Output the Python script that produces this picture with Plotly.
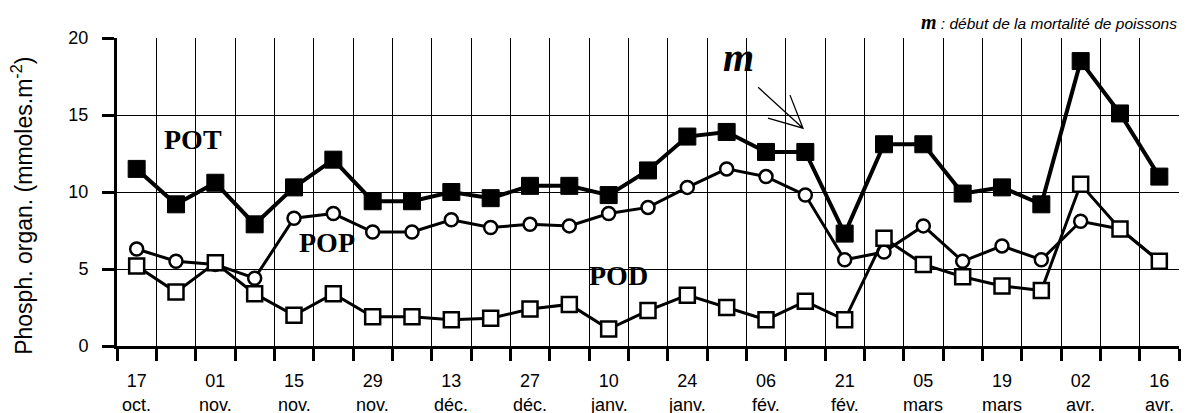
import plotly.graph_objects as go

# ---- data ----
sample_index = list(range(27))
label_days = ["17", "01", "15", "29", "13", "27", "10", "24", "06", "21", "05", "19", "02", "16"]
label_months = ["oct.", "nov.", "nov.", "nov.", "déc.", "déc.", "janv.", "janv.", "fév.", "fév.",
                "mars", "mars", "avr.", "avr."]
pot = [11.5, 9.2, 10.6, 7.9, 10.3, 12.1, 9.4, 9.4, 10.0, 9.6, 10.4, 10.4, 9.8, 11.4, 13.6, 13.9,
       12.6, 12.6, 7.3, 13.1, 13.1, 9.9, 10.3, 9.2, 18.5, 15.1, 11.0]
pop = [6.3, 5.5, 5.3, 4.4, 8.3, 8.6, 7.4, 7.4, 8.2, 7.7, 7.9, 7.8, 8.6, 9.0, 10.3, 11.5,
       11.0, 9.8, 5.6, 6.1, 7.8, 5.5, 6.5, 5.6, 8.1, 7.6, 5.5]
pod = [5.2, 3.5, 5.4, 3.4, 2.0, 3.4, 1.9, 1.9, 1.7, 1.8, 2.4, 2.7, 1.1, 2.3, 3.3, 2.5,
       1.7, 2.9, 1.7, 7.0, 5.3, 4.5, 3.9, 3.6, 10.5, 7.6, 5.5]
y_ticks = [0, 5, 10, 15, 20]

label_pos = sample_index[::2]
grid_pos = [i - 0.5 for i in sample_index] + [sample_index[-1] + 0.5]

fig = go.Figure()
fig.add_trace(go.Scatter(
    x=sample_index, y=pop, mode="lines+markers", name="POP",
    line=dict(color="black", width=3),
    marker=dict(symbol="circle", size=13, color="white", line=dict(color="black", width=2.5)),
))
fig.add_trace(go.Scatter(
    x=sample_index, y=pod, mode="lines+markers", name="POD",
    line=dict(color="black", width=3),
    marker=dict(symbol="square", size=15, color="white", line=dict(color="black", width=2.5)),
))
fig.add_trace(go.Scatter(
    x=sample_index, y=pot, mode="lines+markers", name="POT",
    line=dict(color="black", width=4),
    marker=dict(symbol="square", size=17, color="black", line=dict(color="black", width=1)),
))

serif = "Liberation Serif"
sans = "Liberation Sans"

annotations = [
    dict(x=1.43, y=13.4, xref="x", yref="y", text="<b>POT</b>", showarrow=False,
         font=dict(family=serif, size=28, color="black")),
    dict(x=4.84, y=6.7, xref="x", yref="y", text="<b>POP</b>", showarrow=False,
         font=dict(family=serif, size=28, color="black")),
    dict(x=12.24, y=4.6, xref="x", yref="y", text="<b>POD</b>", showarrow=False,
         font=dict(family=serif, size=28, color="black")),
    dict(x=15.29, y=18.75, xref="x", yref="y", text="<b><i>m</i></b>", showarrow=False,
         font=dict(family=serif, size=40, color="black")),
    dict(x=1.0, y=1.052, xref="paper", yref="paper", xanchor="right", yanchor="middle",
         text='<b><i><span style="font-family:Liberation Serif;font-size:20px">m</span></i></b>'
              '<i> : début de la mortalité de poissons</i>',
         showarrow=False, font=dict(family=sans, size=15.5, color="black")),
    dict(x=-0.0895, y=0.455, xref="paper", yref="paper", xanchor="center", yanchor="middle",
         textangle=-90, text="Phosph. organ. (mmoles.m<sup>-2</sup>)", showarrow=False,
         font=dict(family=sans, size=23, color="black")),
]
for pos, month in zip(label_pos, label_months):
    annotations.append(dict(x=pos, y=-0.1916, xref="x", yref="paper", xanchor="center",
                            yanchor="middle", text=month, showarrow=False,
                            font=dict(family=sans, size=18, color="black")))

fig.add_shape(type="path", xref="x", yref="y",
              path="M 15.8,16.8 L 16.94,14.14 M 16.61,16.29 L 16.94,14.14 L 16.05,14.8",
              line=dict(color="black", width=1.3))

fig.update_layout(
    width=1194, height=413,
    margin=dict(l=109, r=23, t=30, b=75),
    paper_bgcolor="white", plot_bgcolor="white",
    showlegend=False,
    font=dict(family=sans, color="black"),
    annotations=annotations,
)
fig.update_xaxes(
    range=[-0.5, 26.5], tickmode="array", tickvals=label_pos, ticktext=label_days,
    ticks="outside", ticklen=12, tickcolor="rgba(0,0,0,0)", tickfont=dict(size=18, family=sans),
    ticklabelstandoff=4,
    showgrid=False, zeroline=False, showline=True, linecolor="black", linewidth=3,
    minor=dict(tickvals=grid_pos, ticks="outside", ticklen=12, tickwidth=3, tickcolor="black",
               showgrid=True, gridcolor="black", gridwidth=1),
)
fig.update_yaxes(
    range=[0, 20], tickmode="array", tickvals=y_ticks,
    ticks="outside", ticklen=12, tickwidth=3, tickcolor="black", tickfont=dict(size=18, family=sans),
    ticklabelstandoff=10,
    showgrid=True, gridcolor="black", gridwidth=1, zeroline=False,
    showline=True, linecolor="black", linewidth=3,
)

fig.write_html("out.html")
